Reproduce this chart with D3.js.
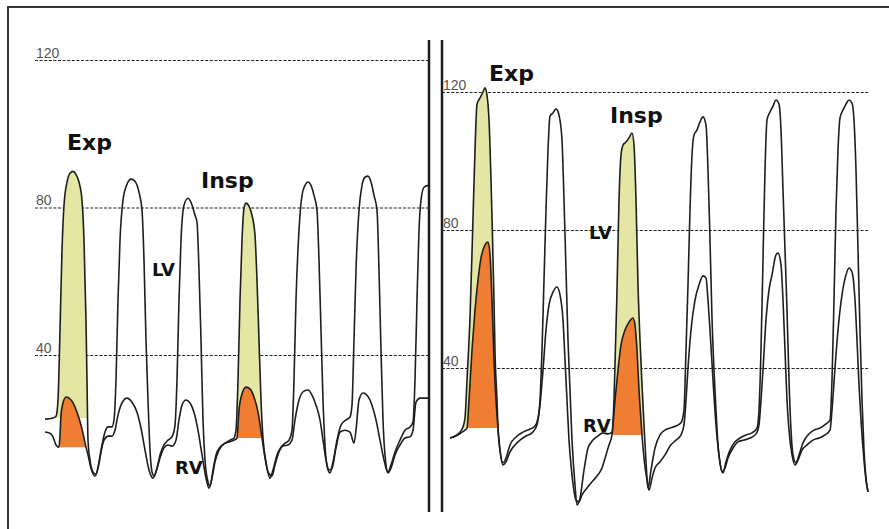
<!DOCTYPE html>
<html>
<head>
<meta charset="utf-8">
<script src="https://cdn.jsdelivr.net/npm/d3@7"></script>
<style>
  body { margin: 0; background: #fff; }
  svg { display: block; }
</style>
</head>
<body>
<div class="tracing"></div>
<script>
const Width = 889;
const Height = 529;

// pressure ticks (mmHg)
const gridTicks = [40, 80, 120];

// left panel traces : [time sample, mmHg]
const leftLV = [[10,22.6],[18,22.9],[21,23.4],[23,27.8],[25,46.7],[27,68.4],[29,80.6],[32,86.9],[35,89.3],[38,89.8],[41,89.0],[44,86.9],[47,82.0],[49,71.1],[51,49.4],[52,33.2],[53,16.9],[55,11.5],[58,8.3],[61,7.7],[64,11.0],[67,15.6],[70,19.1],[73,20.5],[77,20.5],[79,22.4],[81,33.2],[83,54.9],[85,71.1],[88,82.0],[92,86.3],[96,87.7],[100,87.1],[104,84.1],[107,79.3],[109,65.7],[111,44.0],[113,27.8],[115,14.2],[117,8.3],[119,7.2],[122,9.3],[125,12.9],[129,15.6],[133,16.9],[137,17.8],[140,21.0],[142,33.2],[144,54.9],[146,71.1],[149,80.6],[153,82.5],[156,81.4],[160,77.9],[162,76.0],[164,63.0],[166,44.0],[168,22.4],[170,11.5],[173,5.6],[175,4.5],[178,8.8],[181,12.9],[185,15.0],[190,16.1],[195,16.9],[199,17.5],[201,19.6],[203,33.2],[205,54.9],[207,71.1],[209,79.8],[211,81.2],[214,80.4],[217,77.9],[220,72.5],[222,60.3],[224,44.0],[226,27.8],[228,17.5],[231,11.0],[235,6.6],[238,8.8],[242,12.9],[246,15.0],[250,16.1],[254,16.9],[257,19.6],[259,33.2],[261,54.9],[264,73.8],[267,83.3],[270,86.0],[273,86.9],[276,86.0],[279,83.3],[282,79.3],[284,65.7],[286,46.7],[288,27.8],[290,15.6],[293,8.8],[295,8.0],[298,11.0],[302,16.9],[306,21.0],[311,22.4],[315,23.2],[317,26.4],[319,44.0],[321,63.0],[324,79.3],[327,86.0],[330,88.2],[333,88.5],[336,86.9],[339,83.3],[342,79.3],[344,63.0],[346,41.3],[348,22.4],[350,12.9],[353,8.3],[356,10.2],[360,13.7],[365,16.9],[370,19.6],[375,20.5],[378,21.8],[380,33.2],[382,54.9],[384,73.8],[386,82.0],[389,85.5],[393,86.0]];

const leftRV = [[10,19.1],[15,18.8],[18,17.8],[21,15.6],[24,15.0],[25,18.3],[26,23.7],[28,27.0],[31,28.6],[34,28.3],[38,27.0],[42,24.5],[46,21.0],[49,17.5],[51,15.0],[53,12.9],[56,9.3],[60,7.2],[63,9.3],[66,13.7],[69,16.9],[73,18.0],[77,18.0],[80,19.6],[83,23.7],[87,27.0],[92,28.3],[97,27.2],[102,24.5],[106,20.2],[110,14.2],[114,8.8],[118,6.6],[121,8.3],[125,12.1],[129,14.8],[133,15.6],[137,15.3],[141,16.9],[144,22.4],[147,26.4],[151,27.8],[155,27.0],[159,24.5],[163,19.6],[167,12.9],[171,6.6],[174,3.9],[177,6.6],[180,11.0],[184,14.2],[189,15.9],[194,16.4],[199,16.9],[202,17.5],[204,25.1],[207,29.4],[211,31.3],[215,30.8],[219,28.6],[223,24.5],[227,17.5],[230,12.1],[233,8.3],[237,7.2],[240,10.2],[244,13.7],[248,15.3],[253,15.6],[257,16.9],[260,22.4],[264,27.8],[269,30.2],[273,30.5],[277,29.1],[281,26.4],[285,22.4],[288,16.9],[291,11.5],[294,8.8],[297,9.3],[301,14.8],[305,19.1],[310,19.6],[315,19.1],[319,16.1],[321,19.6],[324,27.8],[328,29.7],[332,29.1],[337,26.4],[341,22.4],[345,16.9],[349,11.5],[353,8.0],[356,9.3],[360,12.9],[365,15.6],[370,17.5],[375,17.8],[378,19.6],[381,27.2],[385,28.3],[393,28.3]];

// right panel traces : [time sample, mmHg]
const rightLV = [[8,19.7],[13,20.3],[18,21.4],[21,22.9],[23,25.5],[25,36.5],[28,54.5],[31,83.5],[33,103.2],[35,116.5],[38,118.3],[41,120.0],[43,121.2],[45,119.1],[47,111.9],[49,94.5],[50,83.5],[52,59.7],[53,44.6],[55,30.7],[56,22.6],[58,16.2],[61,12.5],[64,13.9],[68,17.7],[74,20.0],[81,21.4],[88,22.3],[93,23.2],[96,25.5],[98,30.7],[100,45.2],[102,65.5],[104,85.8],[106,103.2],[108,113.0],[111,113.9],[114,115.1],[117,113.3],[120,106.1],[122,88.7],[124,68.4],[126,48.1],[128,33.6],[130,19.1],[133,6.1],[135,0.3],[138,2.3],[142,10.4],[146,16.8],[151,19.1],[156,20.3],[161,21.2],[166,20.9],[170,21.4],[172,30.7],[175,62.6],[177,88.7],[179,101.7],[181,104.6],[184,105.5],[187,106.7],[190,108.1],[192,104.6],[194,88.7],[196,64.1],[198,48.1],[200,35.1],[202,23.5],[204,12.8],[206,5.2],[209,10.4],[213,16.8],[218,20.6],[223,22.0],[228,22.6],[234,23.2],[239,24.1],[242,27.8],[244,45.2],[246,64.1],[248,85.8],[250,101.7],[252,107.5],[255,109.0],[258,111.3],[261,112.8],[264,110.4],[266,97.4],[268,77.1],[270,54.5],[272,39.4],[274,27.8],[276,17.7],[279,11.0],[281,9.6],[284,12.8],[288,16.2],[293,18.6],[298,19.7],[304,20.6],[310,21.2],[315,22.6],[317,27.8],[319,45.2],[321,71.3],[323,97.4],[325,111.9],[328,114.2],[331,115.9],[334,117.7],[337,116.5],[339,109.0],[341,91.6],[343,74.2],[345,56.8],[347,36.5],[349,22.0],[351,14.8],[354,12.5],[357,14.8],[361,18.3],[366,20.6],[372,22.0],[378,22.6],[384,23.8],[388,24.9],[390,36.5],[392,59.7],[394,85.8],[396,103.2],[398,112.5],[401,114.8],[404,116.5],[407,117.7],[410,116.8],[412,111.9],[414,97.4],[416,74.2],[418,51.0],[420,30.7],[422,16.2],[424,8.1],[426,4.1]];

const rightRV = [[8,19.7],[14,20.3],[19,21.2],[23,22.0],[25,22.6],[27,30.7],[30,45.2],[33,56.8],[36,65.5],[39,71.9],[43,75.7],[46,76.5],[48,72.8],[50,59.7],[52,42.3],[54,30.7],[56,22.6],[58,16.2],[61,11.9],[64,12.8],[68,15.7],[73,17.7],[78,19.1],[84,20.3],[90,21.2],[95,23.5],[98,29.3],[101,39.4],[104,51.0],[107,58.3],[111,62.0],[115,63.5],[118,61.2],[121,53.9],[123,42.3],[125,30.7],[127,19.1],[130,9.0],[134,1.7],[137,1.2],[140,3.2],[145,5.2],[150,7.0],[155,8.7],[160,11.0],[164,14.8],[167,17.7],[170,20.6],[173,30.7],[176,39.4],[179,46.7],[183,51.0],[187,53.3],[191,54.5],[193,52.5],[195,45.2],[197,33.6],[199,24.9],[200,20.6],[202,13.9],[205,7.5],[207,4.6],[210,8.1],[213,11.0],[218,12.8],[223,14.8],[228,17.4],[234,19.1],[239,20.6],[242,23.5],[244,30.7],[246,40.0],[249,51.0],[253,59.7],[257,64.1],[261,66.7],[264,66.1],[266,59.7],[268,51.0],[271,36.5],[274,23.5],[277,14.8],[280,9.9],[283,11.0],[286,13.9],[291,16.8],[296,18.6],[302,19.1],[308,19.7],[314,20.9],[317,23.5],[319,30.7],[321,39.4],[324,53.9],[327,62.6],[330,67.0],[334,72.8],[336,73.3],[339,69.9],[341,59.7],[343,45.2],[345,30.7],[347,22.0],[350,14.8],[353,11.9],[356,13.3],[360,16.2],[365,17.7],[371,19.1],[377,19.7],[383,20.6],[388,22.0],[390,27.8],[393,40.0],[396,51.0],[400,61.2],[404,67.0],[407,69.0],[410,67.8],[413,59.7],[415,48.1],[417,35.1],[419,24.9],[422,13.3],[424,7.5],[426,4.1]];

// shaded beats : [start, end, baseline mmHg]
const leftExpLV = [21, 53, 22.9];
const leftExpRV = [24, 51, 15.0];
const leftInspLV = [201, 228, 17.5];
const leftInspRV = [202, 227, 17.5];
const rightExpLV = [20, 56, 22.6];
const rightExpRV = [25, 56, 22.6];
const rightInspLV = [170, 202, 20.6];
const rightInspRV = [170, 200, 20.6];

const yellow = "#e4e6a4";
const orange = "#ef7e33";
const ink = "#1e1e1e";

var svg = d3.select(".tracing").append("svg")
    .attr("width", Width)
    .attr("height", Height);

svg.append("rect").attr("width", Width).attr("height", Height).attr("fill", "#fff");

// frame : top and left edge
svg.append("path")
    .attr("d", "M8,529 V7 H889")
    .attr("fill", "none")
    .attr("stroke", "#333")
    .attr("stroke-width", 2);

// separator between the two tracings
[429, 442].forEach(function(xx) {
  svg.append("line")
      .attr("x1", xx).attr("x2", xx)
      .attr("y1", 40).attr("y2", 512)
      .attr("stroke", ink)
      .attr("stroke-width", 2.5);
});

const panels = [
  { x: d3.scaleLinear().domain([0, 393]).range([35, 428]),
    y: d3.scaleLinear().domain([0, 120]).range([502.5, 60]),
    lv: leftLV, rv: leftRV,
    shade: [[leftLV, leftExpLV, yellow], [leftRV, leftExpRV, orange],
            [leftLV, leftInspLV, yellow], [leftRV, leftInspRV, orange]] },
  { x: d3.scaleLinear().domain([0, 426]).range([442, 868]),
    y: d3.scaleLinear().domain([0, 120]).range([506, 92]),
    lv: rightLV, rv: rightRV,
    shade: [[rightLV, rightExpLV, yellow], [rightRV, rightExpRV, orange],
            [rightLV, rightInspLV, yellow], [rightRV, rightInspRV, orange]] }
];

panels.forEach(function(p) {
  const g = svg.append("g");
  const x0 = p.x.range()[0], x1 = p.x.range()[1];

  // dashed pressure grid
  const axis = g.append("g")
      .attr("transform", "translate(" + x0 + ",0)")
      .call(d3.axisRight(p.y).tickValues(gridTicks).tickSize(x1 - x0).tickPadding(0));
  axis.select(".domain").remove();
  axis.selectAll(".tick line")
      .attr("stroke", "#222")
      .attr("stroke-width", 1.1)
      .attr("stroke-dasharray", "3,1.6");
  axis.selectAll(".tick text")
      .attr("x", 1)
      .attr("dy", "-0.2em")
      .attr("text-anchor", "start")
      .style("font-family", "'Liberation Sans', Arial, sans-serif")
      .style("font-size", "14px")
      .attr("fill", "#555");

  // shaded beats
  p.shade.forEach(function(s) {
    const data = s[0], beat = s[1];
    const pts = data.filter(function(d) { return d[0] >= beat[0] && d[0] <= beat[1]; });
    const area = d3.area()
        .curve(d3.curveMonotoneX)
        .x(function(d) { return p.x(d[0]); })
        .y0(p.y(beat[2]))
        .y1(function(d) { return p.y(Math.max(d[1], beat[2])); });
    g.append("path").datum(pts)
        .attr("fill", s[2])
        .attr("d", area);
  });

  const line = d3.line()
      .curve(d3.curveMonotoneX)
      .x(function(d) { return p.x(d[0]); })
      .y(function(d) { return p.y(d[1]); });

  [p.rv, p.lv].forEach(function(series) {
    g.append("path").datum(series)
        .attr("fill", "none")
        .attr("stroke", ink)
        .attr("stroke-width", 1.6)
        .attr("stroke-linejoin", "round")
        .attr("d", line);
  });
});

// phase and chamber labels
function label(txt, px, py, size) {
  svg.append("text")
      .attr("x", px).attr("y", py)
      .style("font-family", "'DejaVu Sans', sans-serif")
      .style("font-weight", "bold")
      .style("font-size", size + "px")
      .attr("fill", "#111")
      .text(txt);
}
label("Exp", 67, 150, 22);
label("Insp", 201, 188, 22);
label("LV", 152, 276, 18);
label("RV", 175, 474, 18);
label("Exp", 489, 81, 22);
label("Insp", 610, 123, 22);
label("LV", 589, 239, 18);
label("RV", 583, 432, 18);
</script>
</body>
</html>
